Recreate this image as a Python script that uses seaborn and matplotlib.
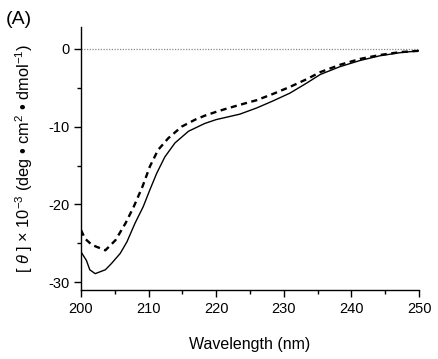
import matplotlib
matplotlib.use("Agg")
import matplotlib.pyplot as plt
import seaborn as sns
import pandas as pd
from matplotlib.ticker import MultipleLocator

# Data
wl_solid = [200, 200.8, 201.3, 202.1, 203.6, 204.5, 205.8, 206.8, 208.0, 209.2, 210.2,
            211.2, 212.4, 213.9, 215.9, 218.3, 220.0, 221.5, 223.5, 226.0, 228.4, 230.9,
            233.4, 235.4, 238.3, 241.3, 244.2, 247.2, 250]
theta_solid = [-26.1, -27.2, -28.4, -28.9, -28.4, -27.6, -26.3, -24.8, -22.4, -20.3, -18.1,
               -16.0, -13.9, -12.1, -10.6, -9.6, -9.1, -8.8, -8.4, -7.6, -6.7, -5.7,
               -4.4, -3.3, -2.3, -1.5, -0.9, -0.5, -0.26]

wl_dash = [200, 200.6, 201.6, 203.6, 205.1, 206.6, 207.8, 209.1, 210.2, 211.4, 212.9,
           214.9, 216.9, 218.3, 220.0, 221.5, 223.5, 226.0, 228.4, 230.9, 233.4, 235.4,
           238.3, 241.3, 244.2, 247.2, 250]
theta_dash = [-23.3, -24.4, -25.2, -25.9, -24.6, -22.4, -20.3, -17.7, -15.1, -13.0, -11.5,
              -10.0, -9.1, -8.6, -8.1, -7.7, -7.2, -6.6, -5.8, -4.9, -3.9, -3.0,
              -2.06, -1.3, -0.8, -0.43, -0.26]

x_ticks = [200, 210, 220, 230, 240, 250]
y_ticks = [-30, -20, -10, 0]

sns.set_style("ticks")
plt.rcParams['font.family'] = ['Liberation Sans', 'DejaVu Sans']
plt.rcParams['mathtext.fontset'] = 'custom'
plt.rcParams['mathtext.rm'] = 'Liberation Sans'
plt.rcParams['mathtext.it'] = 'Liberation Sans:italic'
plt.rcParams['text.color'] = 'black'
plt.rcParams['axes.labelcolor'] = 'black'
plt.rcParams['xtick.color'] = 'black'
plt.rcParams['ytick.color'] = 'black'

fig = plt.figure(figsize=(4.38, 3.59), dpi=100)
ax = fig.add_axes([81/438, 69/359, 338/438, 263/359])

df_s = pd.DataFrame({"wl": wl_solid, "theta": theta_solid})
df_d = pd.DataFrame({"wl": wl_dash, "theta": theta_dash})

ax.axhline(0, color="#888888", lw=0.9, ls=(0, (1, 1.2)), zorder=1)
sns.lineplot(data=df_s, x="wl", y="theta", ax=ax, color="black", lw=1.0, sort=False)
sns.lineplot(data=df_d, x="wl", y="theta", ax=ax, color="black", lw=1.7,
             dashes=False, sort=False)
ax.lines[-1].set_linestyle((0, (2.6, 1.9)))

ax.set_xlim(200, 250)
ax.set_ylim(-31, 2.8)
ax.set_xticks(x_ticks)
ax.set_yticks(y_ticks)
ax.xaxis.set_minor_locator(MultipleLocator(5))
ax.yaxis.set_minor_locator(MultipleLocator(5))
ax.tick_params(which="major", direction="out", length=5, width=1, labelsize=10.5, color="black")
ax.tick_params(which="minor", direction="out", length=3, width=1, color="black")
ax.set_yticklabels([str(v) for v in y_ticks])
for s in ["top", "right"]:
    ax.spines[s].set_visible(False)
for s in ["left", "bottom"]:
    ax.spines[s].set_linewidth(1)
    ax.spines[s].set_color("black")

ax.set_xlabel("Wavelength (nm)", fontsize=11.5, labelpad=15)
ax.set_ylabel(r"[ $\it{\theta}$ ] × 10$^{-3}$ (deg • cm$^{2}$ • dmol$^{-1}$)", fontsize=11.8, labelpad=9)

fig.text(6/438, 1 - 20/359, "(A)", fontsize=14, va="center", ha="left")

fig.savefig("out.png", dpi=100)
